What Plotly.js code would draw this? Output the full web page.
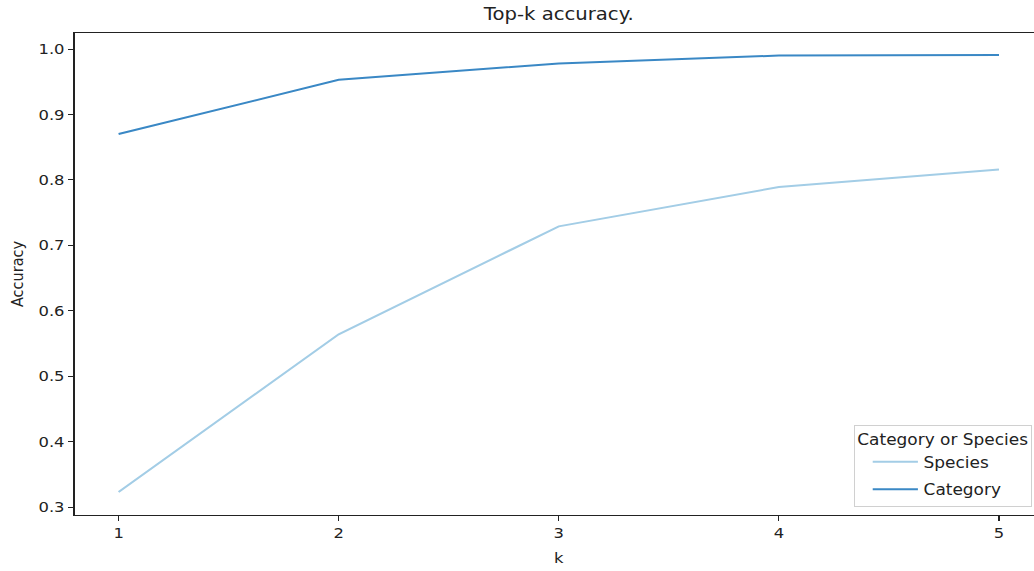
<!DOCTYPE html>
<html>
<head>
<meta charset="utf-8">
<script src="https://cdn.plot.ly/plotly-3.0.1.min.js"></script>
<style>
html, body { margin: 0; padding: 0; overflow: hidden; background: #fff; width: 1034px; height: 571px; }
#chart { width: 940px; height: 571px; transform: scaleX(1.13); transform-origin: 0 0; }
</style>
</head>
<body>
<div id="chart"></div>
<script>
const kValues = [1, 2, 3, 4, 5];
const speciesAcc = [0.323, 0.564, 0.729, 0.789, 0.816];
const categoryAcc = [0.870, 0.953, 0.978, 0.990, 0.991];
const seriesNames = ["Species", "Category"];
const yTicks = [0.3, 0.4, 0.5, 0.6, 0.7, 0.8, 0.9, 1.0];
const yTickLabels = ["0.3", "0.4", "0.5", "0.6", "0.7", "0.8", "0.9", "1.0"];
const xTickLabels = ["1", "2", "3", "4", "5"];

const font = "DejaVu Sans, sans-serif";
const ink = "#222";

const traces = [
  {x: kValues, y: speciesAcc, name: seriesNames[0], legendgroup: "s", type: "scatter", mode: "lines",
   line: {color: "#a3cde6", width: 2}},
  {x: kValues, y: categoryAcc, name: seriesNames[1], legendgroup: "c", type: "scatter", mode: "lines",
   line: {color: "#3a88c5", width: 2}}
];

const layout = {
  width: 940, height: 571,
  margin: {l: 66.4, r: 17, t: 33, b: 56},
  paper_bgcolor: "#fff", plot_bgcolor: "#fff",
  font: {family: font, size: 14.5, color: ink},
  title: {text: "Top-k accuracy.", font: {family: font, size: 17.4, color: ink},
          x: 0.5, xref: "paper", xanchor: "center", y: 1, yref: "container", yanchor: "top", pad: {t: 8}},
  xaxis: {
    range: [0.8, 5.2], tickvals: kValues, ticktext: xTickLabels,
    showgrid: false, zeroline: false, showline: true, linecolor: ink, linewidth: 1, mirror: true,
    ticks: "outside", ticklen: 5, tickwidth: 1, tickcolor: ink,
    tickfont: {family: font, size: 14.5, color: ink},
    title: {text: "k", font: {family: font, size: 14.5, color: ink}, standoff: 12}
  },
  yaxis: {
    range: [0.2878, 1.0245], tickvals: yTicks, ticktext: yTickLabels,
    showgrid: false, zeroline: false, showline: true, linecolor: ink, linewidth: 1, mirror: true,
    ticks: "outside", ticklen: 5, tickwidth: 1, tickcolor: ink,
    tickfont: {family: font, size: 14.5, color: ink},
    title: {text: "Accuracy", font: {family: font, size: 14.5, color: ink}, standoff: 9}
  },
  legend: {
    x: 0.9887, xanchor: "right", y: 0.0166, yanchor: "bottom",
    bgcolor: "rgba(255,255,255,0.8)", bordercolor: "#d0d0d0", borderwidth: 1,
    font: {family: font, size: 15, color: ink},
    title: {text: "Category or Species", font: {family: font, size: 15, color: ink}, side: "top center"},
    traceorder: "grouped", tracegroupgap: 5,
    itemwidth: 40, indentation: 11
  },
  showlegend: true
};

Plotly.newPlot("chart", traces, layout, {displayModeBar: false, staticPlot: true});
</script>
</body>
</html>
